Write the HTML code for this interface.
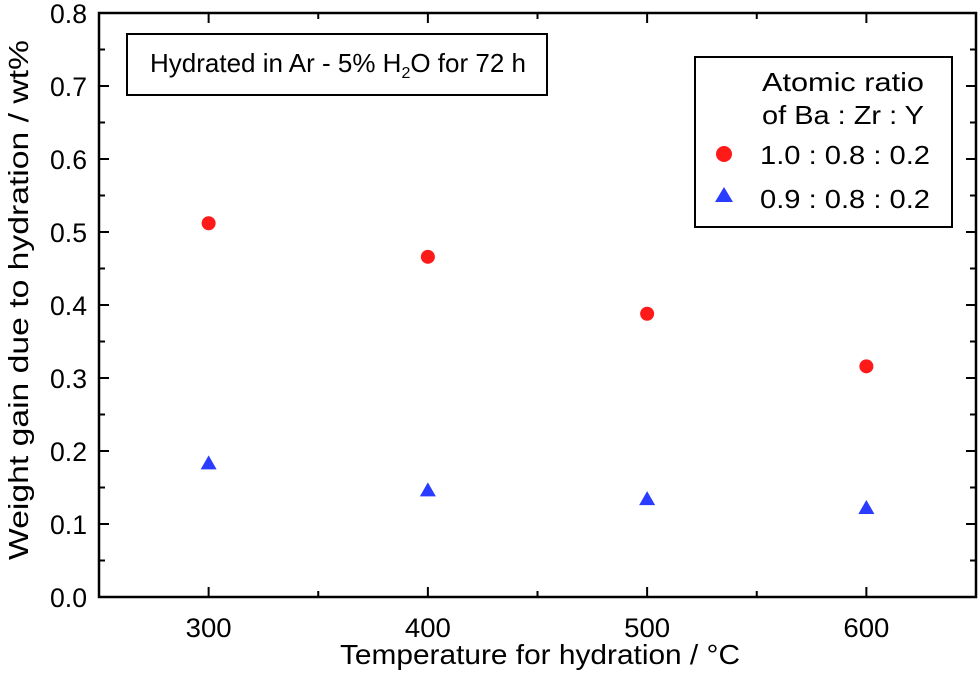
<!DOCTYPE html>
<html><head><meta charset="utf-8"><style>
body{margin:0;background:#fff}
svg text{font-family:"Liberation Sans",Arial,sans-serif;fill:#000}
</style></head><body>
<svg id="c" width="980" height="671" viewBox="0 0 980 671" xmlns="http://www.w3.org/2000/svg"></svg>
<script>
const temps=[300,400,500,600];
const seriesA=[0.512,0.466,0.388,0.316];
const seriesB=[0.183,0.146,0.134,0.122];
const yTicks=[0.0,0.1,0.2,0.3,0.4,0.5,0.6,0.7,0.8];
const xTicks=[300,400,500,600];
const L=99,R=976,T=13,B=597;
const x=v=>L+(v-250)/400*(R-L);
const y=v=>B-v/0.8*(B-T);
const svg=document.getElementById('c');
const NS='http://www.w3.org/2000/svg';
function mk(tag,attrs,parent){const e=document.createElementNS(NS,tag);for(const k in attrs)e.setAttribute(k,attrs[k]);(parent||svg).appendChild(e);return e;}
const frame=mk('rect',{x:L,y:T,width:R-L,height:B-T,fill:'none',stroke:'#000','stroke-width':2.5});


for(let v=0;v<=0.8001;v+=0.05){const maj=Math.round(v*20)%2===0;const len=maj?10:6;const yy=y(v);
 mk('line',{x1:L,x2:L+len,y1:yy,y2:yy,stroke:'#000','stroke-width':2});
 mk('line',{x1:R,x2:R-len,y1:yy,y2:yy,stroke:'#000','stroke-width':2});}
for(let v=250;v<=650;v+=50){const maj=v%100===0;const len=maj?10:6;const xx=x(v);
 mk('line',{x1:xx,x2:xx,y1:B,y2:B-len,stroke:'#000','stroke-width':2});
 mk('line',{x1:xx,x2:xx,y1:T,y2:T+len,stroke:'#000','stroke-width':2});}
yTicks.forEach(v=>{const t=mk('text',{x:L-12,y:y(v)+10,'text-anchor':'end','font-size':27,textLength:37,lengthAdjust:'spacingAndGlyphs'});t.textContent=v.toFixed(1);

});
xTicks.forEach(v=>{const t=mk('text',{x:x(v),y:B+40,'text-anchor':'middle','font-size':27,textLength:46,lengthAdjust:'spacingAndGlyphs'});t.textContent=v;

});
const xt=mk('text',{x:540,y:664,'text-anchor':'middle','font-size':28,textLength:400,lengthAdjust:'spacingAndGlyphs'});xt.textContent='Temperature for hydration / °C';


const yt=mk('text',{x:0,y:0,'text-anchor':'middle','font-size':28,textLength:520,lengthAdjust:'spacingAndGlyphs',transform:'translate(28,300) rotate(-90)'});yt.textContent='Weight gain due to hydration / wt%';


temps.forEach((t,i)=>{const c=mk('circle',{cx:x(t),cy:y(seriesA[i]),r:7,fill:'#ff1a1a'});


const px=x(t),py=y(seriesB[i]);const p=mk('polygon',{points:`${px},${py-8} ${px-8},${py+6} ${px+8},${py+6}`,fill:'#2a3cff'});

});
const nb=mk('g',{});


mk('rect',{x:127,y:34,width:420,height:61,fill:'#fff',stroke:'#000','stroke-width':2},nb);
const nt=mk('text',{x:150,y:72,'font-size':26},nb);
const s1=mk('tspan',{},nt);s1.textContent='Hydrated in Ar - 5% H';
const s2=mk('tspan',{'font-size':16,dy:6},nt);s2.textContent='2';
const s3=mk('tspan',{dy:-6},nt);s3.textContent='O for 72 h';
const lg=mk('g',{});


mk('rect',{x:695,y:57,width:257,height:170,fill:'#fff',stroke:'#000','stroke-width':2},lg);
[['Atomic ratio',91,162],['of Ba : Zr : Y',124,162]].forEach(([s,yy,w])=>{const t=mk('text',{x:762,y:yy,'font-size':26,textLength:w,lengthAdjust:'spacingAndGlyphs'},lg);t.textContent=s;});
mk('circle',{cx:724,cy:154,r:8,fill:'#ff1a1a'},lg);
const l1=mk('text',{x:760,y:164,'font-size':26,textLength:170,lengthAdjust:'spacingAndGlyphs'},lg);l1.textContent='1.0 : 0.8 : 0.2';


mk('polygon',{points:'724,187 715,202 733,202',fill:'#2a3cff'},lg);
const l2=mk('text',{x:760,y:208,'font-size':26,textLength:170,lengthAdjust:'spacingAndGlyphs'},lg);l2.textContent='0.9 : 0.8 : 0.2';


</script>
</body></html>
